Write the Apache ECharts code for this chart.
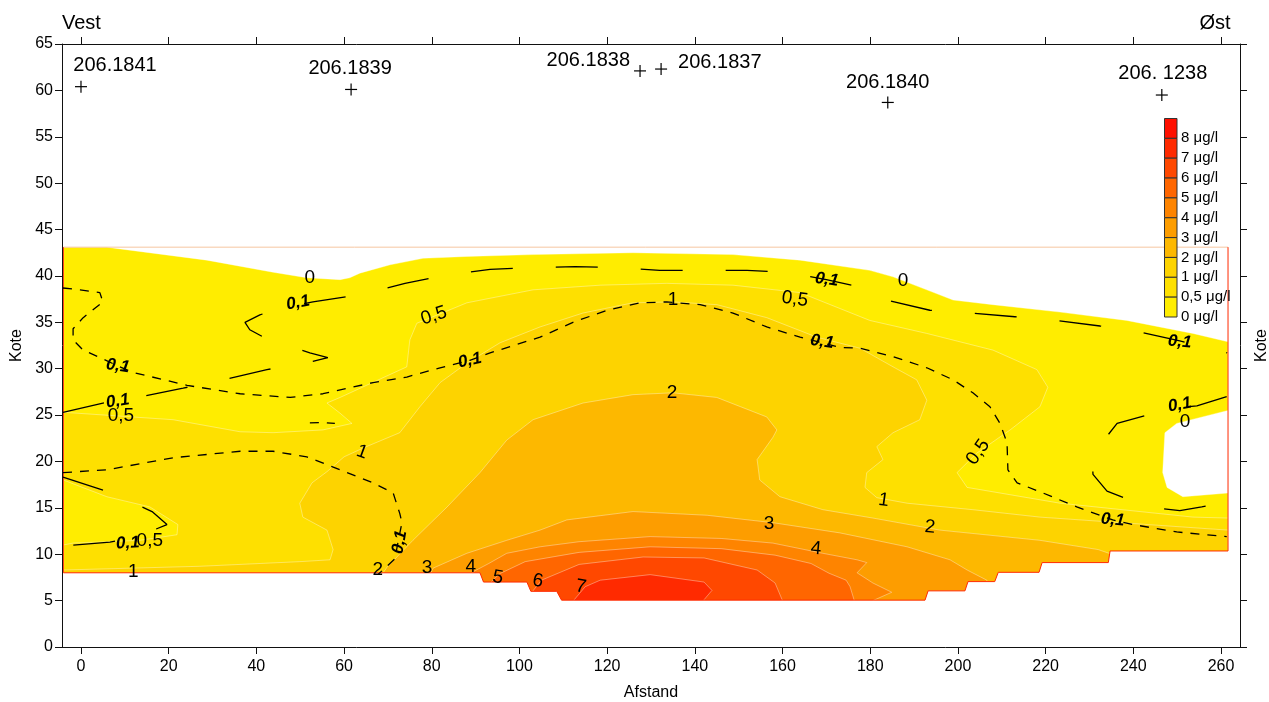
<!DOCTYPE html>
<html><head><meta charset="utf-8">
<script src="https://cdn.jsdelivr.net/npm/echarts@6/dist/echarts.min.js"></script>
<style>html,body{margin:0;padding:0;background:#fff}#c{width:1269px;height:702px}</style>
</head><body><div id="c"></div>
<script>
// ---------- DATA ----------
const xTicks = [0,20,40,60,80,100,120,140,160,180,200,220,240,260];
const fillLevels = ['0','0,5','1','2','3','4','5','6','7'];
const legendLabels = ['0 μg/l','0,5 μg/l','1 μg/l','2 μg/l','3 μg/l','4 μg/l','5 μg/l','6 μg/l','7 μg/l','8 μg/l'];
const levelColors = ['#FFED00','#FEE000','#FDD300','#FDB800','#FD9D00','#FE8400','#FF6600','#FF4800','#FF2A00','#FF1000'];

// regions where concentration >= level (x = Afstand, y = Kote)
const fill0 = [[-4,43.1],[5.9,43.1],[28.7,41.7],[43.8,40.4],[51.5,39.8],[59.1,39.6],[61.3,39.8],[63.6,40.3],[70.5,41.2],[78.0,41.9],[88.0,42.1],[103.1,42.3],[125.9,42.5],[148.7,42.3],[164.0,41.7],[179.9,40.6],[185.2,39.9],[192.9,38.5],[198.9,37.4],[208.0,36.9],[223.3,36.1],[238.5,35.2],[253.6,33.8],[261.6,32.9],[261.6,25.5],[249.9,24.1],[247.2,23.1],[246.7,18.8],[247.7,17.2],[251.3,16.2],[261.6,16.6],[261.6,4.6],[-4,4.6]];
const fill05 = [[-4,25.3],[21.0,24.5],[36.3,23.2],[43.8,23.1],[55.2,23.4],[61.8,24.1],[59.1,25.2],[56.1,26.3],[59.1,26.9],[74.3,30.2],[75.0,33.1],[76.6,34.9],[80.3,35.6],[88.0,37.1],[103.1,38.5],[118.4,39.0],[133.6,39.2],[148.7,39.0],[164.0,38.2],[179.9,35.2],[192.9,33.8],[208.0,32.0],[218.0,29.9],[220.5,28.0],[218.7,25.9],[211.9,23.4],[204.3,20.9],[199.8,18.8],[202.1,17.2],[223.3,15.5],[253.6,14.0],[261.6,13.9],[261.6,4.6],[-4,4.6],[-4,11.0],[-1.8,11.2],[13.5,11.5],[21.9,12.1],[22.1,13.2],[15.7,15.1],[5.9,16.2],[-4,18.0]];
const fill1 = [[-4,8.3],[27.1,8.7],[49.9,9.2],[56.8,9.4],[57.5,10.5],[56.1,12.6],[50.6,14.0],[49.9,15.5],[52.7,17.7],[56.1,18.9],[60.0,20.5],[64.6,21.5],[72.7,23.1],[77.3,25.9],[81.9,28.5],[88.0,30.6],[95.6,32.8],[104.7,34.5],[114.5,36.0],[125.9,37.1],[135.0,37.2],[145.0,36.9],[156.4,35.5],[167.8,33.4],[177.7,32.2],[185.2,30.2],[190.6,28.8],[192.9,26.6],[191.3,24.5],[185.2,23.1],[181.5,21.6],[182.9,20.2],[179.2,18.8],[178.8,17.2],[181.5,16.1],[188.4,15.5],[203.4,14.8],[218.7,14.0],[261.6,12.6],[261.6,4.6],[-4,4.6]];
const fill2 = [[68.5,4.6],[68.9,8.0],[69.8,8.6],[75.7,11.5],[83.5,15.1],[91.0,18.8],[97.1,22.3],[103.1,24.5],[114.5,26.3],[125.9,27.2],[135.0,27.4],[145.0,26.9],[156.4,24.8],[158.7,23.4],[157.8,22.6],[154.2,20.2],[154.8,18.0],[159.4,16.2],[169.2,14.8],[180.6,13.9],[195.9,12.6],[218.7,11.5],[232,10.5],[240,9.2],[246,8.0],[246,4.6]];
const fill3 = [[79.5,4.6],[79.8,8.0],[80.3,8.5],[88.0,10.1],[97.1,11.5],[104.7,12.6],[110.8,13.7],[125.9,14.6],[142.8,14.2],[157.8,13.4],[173.1,12.3],[188.4,10.8],[198.2,9.4],[202.1,8.3],[206.6,7.2],[207.8,4.6]];
const fill4 = [[89.2,4.6],[89.4,8.1],[93.0,9.0],[97.1,10.1],[104.7,10.8],[113.6,11.35],[129.8,11.9],[146.0,11.7],[157.8,11.2],[169.2,10.1],[177.0,9.4],[179.2,9.1],[177.0,8.0],[180.6,6.9],[184.9,5.9],[180.6,5.0],[180.6,4.6]];
const fill5 = [[93.5,4.6],[93.5,7.0],[95.5,7.9],[101.3,9.2],[113.6,10.2],[129.8,10.8],[146.0,10.6],[158.3,9.9],[166.5,9.0],[170.6,7.95],[174.5,7.2],[175.4,6.5],[176.3,5.1],[176.3,4.6]];
const fill6 = [[103,4.6],[103,6.0],[105,7.2],[113.6,8.9],[128.2,9.7],[142.1,9.6],[154.2,8.3],[158.3,6.9],[159.9,5.1],[159.9,4.6]];
const fill7 = [[112,4.6],[112.5,5.1],[115,6.5],[118.4,7.2],[129.8,7.8],[142.1,7.0],[143.9,6.1],[142.1,5.1],[142.1,4.6]];

// model domain
const domainBottom = [[-4,8.0],[91.0,8.0],[91.8,7.0],[101.7,7.0],[102.6,6.0],[108.5,6.0],[109.6,5.05],[192.5,5.05],[193.2,6.05],[201.6,6.05],[202.3,7.05],[208.4,7.05],[209.2,8.05],[218.5,8.05],[219.2,9.1],[234.3,9.1],[234.7,10.35],[261.6,10.35]];
const domainTop = [[-4,43.1],[261.6,43.1]];
const domainLeft = [[-4,8.0],[-4,43.1]];
const domainRight = [[261.6,10.35],[261.6,43.1]];

// 0,1 contour lines
const longDash1 = [[-4.1,25.3],[5.0,26.3],[12.8,26.9],[23.3,27.9],[33.3,28.9],[42.4,29.9],[52.2,30.7],[56.3,31.2],[52.2,31.7],[42.4,33.2],[38.5,34.2],[37.4,35.0],[40.8,35.8],[45.2,36.5],[52.9,37.2],[64.1,38.0],[73.9,39.2],[83.5,40.1],[93.3,40.7],[102.9,40.9],[112.7,41.0],[122.2,40.9],[132.0,40.6],[141.8,40.6],[151.9,40.6],[161.2,40.4],[170.0,39.6],[177.7,38.8],[183.8,37.4],[193.6,36.3],[203.2,36.0],[213.0,35.6],[222.6,35.2],[232.4,34.6],[242.0,33.9],[250.6,33.0],[261.4,31.7]];
const longDash2 = [[-4.1,18.3],[7.1,16.6],[16.2,14.6],[19.6,13.2],[13.5,12.0],[6.6,11.3],[-4.1,10.9]];
const longDash3 = [[261.3,27.0],[254.5,26.0],[248.3,25.7],[236.3,24.1],[230.6,20.7],[230.8,18.6],[234.0,16.8],[243.1,15.1],[250.6,14.7],[255.6,15.1],[261.3,15.6]];
const shortDash1 = [[-4.1,38.7],[-0.2,38.5],[4.3,38.2],[5.0,37.2],[0.5,35.5],[-1.8,34.3],[-1.8,33.1],[0.5,32.0],[4.3,31.2],[8.4,30.3],[11.9,29.6],[24.2,28.2],[36.3,27.3],[47.7,26.9],[55.2,27.3],[66.6,28.5],[74.3,29.1],[81.9,30.1],[88.7,30.9],[93.3,31.7],[104.7,33.4],[112.2,35.0],[120.0,36.3],[127.5,37.1],[133.6,37.2],[141.2,36.9],[148.7,36.0],[156.4,34.5],[164.0,33.4],[173.1,32.3],[177.7,32.2],[185.2,31.3],[192.9,30.1],[198.9,28.8],[203.4,27.4],[207.3,25.9],[209.6,24.1],[211.2,22.0],[211.4,19.1],[213.5,17.7],[219.4,16.6],[227.1,15.1],[235.3,13.7],[239.9,13.2],[249.9,12.4],[261.3,11.9]];
const shortDash2 = [[-4.1,18.8],[5.9,19.1],[21.0,20.4],[36.3,21.1],[43.8,21.1],[51.5,20.5],[59.1,19.1],[66.6,17.7],[71.2,16.6],[72.7,14.4],[73.2,13.4],[72.3,11.3],[71.6,9.5],[67.7,7.8]];
const shortDash3 = [[52.2,24.15],[55.0,24.2],[57.9,24.1]];

// contour labels
const labelText = ['0','0','0','0,1','0,1','0,1','0,1','0,1','0,1','0,1','0,1','0,1','0,1','0,1','0,5','0,5','0,5','0,5','0,5','1','1','1','1','2','2','2','3','3','4','4','5','6','7'];
const labelX = [52.2,187.5,251.8, 49.5,8.4,8.4,10.7,88.7,170.1,169.0,250.6,250.6,235.3,72.7, 80.5,162.8,9.1,15.7,204.6, 135.0,64.1,183.1,11.9, 134.8,193.6,67.7, 156.9,78.9, 167.6,88.9, 95.1,104.2,114.0];
const labelY = [39.8,39.5,24.3, 37.1,30.3,26.5,11.2,30.9,39.6,32.9,32.9,26.1,13.7,11.3, 35.7,37.5,24.9,11.4,21.0, 37.4,21.0,15.8,8.1, 27.4,12.9,8.3, 13.3,8.5, 10.6,8.6, 7.5,7.1,6.5];

// wells
const wellNames = ['206.1841','206.1839','206.1838','206.1837','206.1840','206. 1238'];
const wellX = [0, 61.6, 127.5, 132.3, 184.0, 246.5];
const wellY = [60.4, 60.1, 62.1, 62.3, 58.7, 59.5];

// ---------- RENDER ----------
const FONT = '"Liberation Sans", Arial, sans-serif';
const fillPolys = [fill0, fill05, fill1, fill2, fill3, fill4, fill5, fill6, fill7];
const labelAngle = [0,0,0, 10,-8,8,3,12,-8,-8,-5,10,-5,80, 18,-8,0,0,55, 0,-20,-8,0, 0,-5,0, 0,0, -5,0, -10,-10,-10];
const labelBold = labelText.map(t => t === '0,1');
const wellLabelOffset = [[34,-21,'center'],[-1,-21,'center'],[-10,-10,'right'],[17,-7,'left'],[0,-20,'center'],[1,-22,'center']];
const X_MIN = -4.33, X_MAX = 264.33;
const maskPoly = [[X_MIN,3.5],[X_MIN,8.0]].concat(domainBottom, [[X_MAX,10.35],[X_MAX,3.5]]);

function lineSeries(data, color, width, type, z) {
  return {type:'line', data:data, showSymbol:false, symbol:'none', silent:true, animation:false,
    lineStyle:{color:color, width:width, type:type}, z:z};
}

const chart = echarts.init(document.getElementById('c'), null, {renderer:'canvas', width:1269, height:702});

const axisCommonX = {
  type:'value', min:X_MIN, max:X_MAX, splitLine:{show:false}, z:10,
  axisLine:{onZero:false, lineStyle:{color:'#111', width:1}},
  axisTick:{show:true, length:7, customValues:xTicks, lineStyle:{color:'#111'}}
};

const graphics = [];
const boxTop = 118.5, boxH = 19.85;
for (let k = 0; k < 10; k++) {
  const idx = 9 - k;
  graphics.push({type:'rect', z:100, shape:{x:1164.5, y:boxTop + k*boxH, width:12.5, height:boxH},
    style:{fill:levelColors[idx], stroke:'#333', lineWidth:1}});
  graphics.push({type:'text', z:100, x:1181, y:boxTop + (k+1)*boxH,
    style:{text:legendLabels[idx], font:'15px ' + FONT, fill:'#000', align:'left', verticalAlign:'middle', textAlign:'left', textVerticalAlign:'middle'}});
}
graphics.push({type:'text', z:100, x:62, y:23, style:{text:'Vest', font:'20px ' + FONT, fill:'#000', align:'left', verticalAlign:'middle', textAlign:'left', textVerticalAlign:'middle'}});
graphics.push({type:'text', z:100, x:1215, y:23, style:{text:'Øst', font:'20px ' + FONT, fill:'#000', align:'center', verticalAlign:'middle', textAlign:'center', textVerticalAlign:'middle'}});

const option = {
  animation:false,
  backgroundColor:'#fff',
  grid:{left:62, right:29, top:44, bottom:55, containLabel:false, outerBoundsMode:'none'},
  xAxis:[
    Object.assign({}, axisCommonX, {position:'bottom', name:'Afstand', nameLocation:'middle', nameGap:38,
      nameTextStyle:{fontSize:16, color:'#000', fontFamily:FONT},
      axisLabel:{customValues:xTicks, fontSize:16, color:'#000', fontFamily:FONT, margin:12}}),
    Object.assign({}, axisCommonX, {position:'top', axisLabel:{show:false}})
  ],
  yAxis:[
    {type:'value', position:'left', min:0, max:65, interval:5, z:10, splitLine:{show:false},
      name:'Kote', nameLocation:'middle', nameGap:36, nameRotate:90,
      nameTextStyle:{fontSize:16, color:'#000', fontFamily:FONT},
      axisLine:{show:true, onZero:false, lineStyle:{color:'#111', width:1}},
      axisTick:{show:true, length:7, lineStyle:{color:'#111'}},
      axisLabel:{fontSize:16, color:'#000', fontFamily:FONT, margin:9}},
    {type:'value', position:'right', min:0, max:65, interval:5, z:10, splitLine:{show:false},
      name:'Kote', nameLocation:'middle', nameGap:14, nameRotate:90,
      nameTextStyle:{fontSize:16, color:'#000', fontFamily:FONT},
      axisLine:{show:true, onZero:false, lineStyle:{color:'#111', width:1}},
      axisTick:{show:true, length:7, lineStyle:{color:'#111'}},
      axisLabel:{show:false}}
  ],
  graphic:graphics,
  series:[
    {type:'custom', silent:true, animation:false, z:2,
      data:fillPolys.map((p,i)=>[i,10]),
      renderItem:(params, api) => {
        const i = params.dataIndex;
        return {type:'polygon', shape:{points:fillPolys[i].map(p => api.coord(p))},
          style:{fill:levelColors[i], stroke:'rgba(255,255,255,0.45)', lineWidth:0.8}};
      }},
    {type:'custom', silent:true, animation:false, z:3,
      data:[[0,1]],
      renderItem:(params, api) => ({type:'polygon', shape:{points:maskPoly.map(p => api.coord(p))},
        style:{fill:'#fff', stroke:null}})},
    lineSeries(domainTop, '#F6C6A0', 1, 'solid', 4),
    lineSeries(domainLeft, '#FF3A10', 1, 'solid', 4),
    lineSeries(domainRight, '#FF2A00', 1, 'solid', 4),
    lineSeries(domainBottom, '#FF2A00', 1, 'solid', 4),
    lineSeries(longDash1, '#000', 1.3, [42,43], 5),
    lineSeries(longDash2, '#000', 1.3, [42,43], 5),
    lineSeries(longDash3, '#000', 1.3, [42,43], 5),
    lineSeries(shortDash1, '#000', 1.3, [9,8], 5),
    lineSeries(shortDash2, '#000', 1.3, [9,8], 5),
    lineSeries(shortDash3, '#000', 1.3, [9,8], 5),
    {type:'custom', silent:true, animation:false, z:6,
      data:labelText.map((t,i)=>[labelX[i], labelY[i]]),
      renderItem:(params, api) => {
        const i = params.dataIndex;
        const p = api.coord([labelX[i], labelY[i]]);
        return {type:'text', x:p[0], y:p[1], rotation:labelAngle[i]*Math.PI/180,
          style:{text:labelText[i], fill:'#000',
            font:(labelBold[i] ? 'italic bold 17px ' : '19px ') + FONT,
            align:'center', verticalAlign:'middle', textAlign:'center', textVerticalAlign:'middle'}};
      }},
    {type:'custom', silent:true, animation:false, z:6,
      data:wellNames.map((n,i)=>[wellX[i], wellY[i]]),
      renderItem:(params, api) => {
        const i = params.dataIndex;
        const p = api.coord([wellX[i], wellY[i]]);
        const o = wellLabelOffset[i];
        return {type:'group', children:[
          {type:'line', shape:{x1:p[0]-6, y1:p[1], x2:p[0]+6, y2:p[1]}, style:{stroke:'#000', lineWidth:1.2}},
          {type:'line', shape:{x1:p[0], y1:p[1]-6, x2:p[0], y2:p[1]+6}, style:{stroke:'#000', lineWidth:1.2}},
          {type:'text', x:p[0]+o[0], y:p[1]+o[1],
            style:{text:wellNames[i], font:'20px ' + FONT, fill:'#000', align:o[2], verticalAlign:'middle', textAlign:o[2], textVerticalAlign:'middle'}}
        ]};
      }}
  ]
};
chart.setOption(option);
</script>
</body></html>
